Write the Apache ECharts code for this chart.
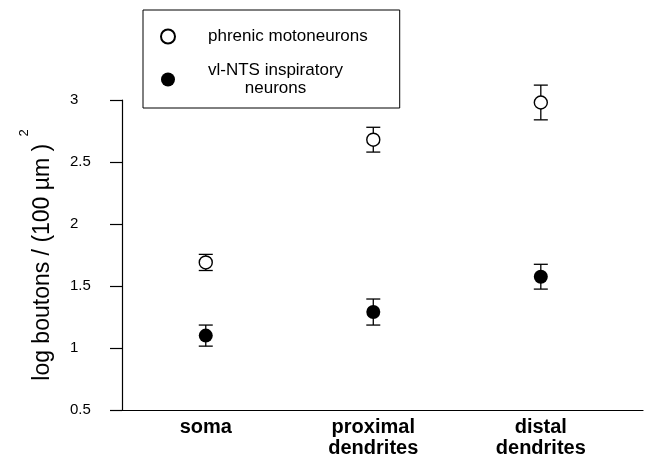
<!DOCTYPE html>
<html><head><meta charset="utf-8">
<script src="https://cdn.jsdelivr.net/npm/echarts@6/dist/echarts.min.js"></script>
<style>html,body{margin:0;padding:0;background:#fff}#c{width:652px;height:466px}</style>
</head><body><div id="c"></div>
<script>
const categories = ['soma', 'proximal\ndendrites', 'distal\ndendrites'];
const phrenicMean = [1.69, 2.68, 2.98];
const phrenicErr = [0.065, 0.10, 0.14];
const ntsMean = [1.10, 1.29, 1.575];
const ntsErr = [0.085, 0.105, 0.10];
const yTicks = [0.5, 1, 1.5, 2, 2.5, 3];
const seriesNames = ['phrenic motoneurons', 'vl-NTS inspiratory\nneurons'];

const FONT = '"Liberation Sans", Arial, Helvetica, sans-serif';
const chart = echarts.init(document.getElementById('c'), null, {renderer: 'canvas'});

function errData(means, errs) {
  return categories.map((c, i) => [i + 1, means[i] - errs[i], means[i] + errs[i]]);
}
function ptData(means) {
  return categories.map((c, i) => [i + 1, means[i]]);
}
function errRender(params, api) {
  const x = api.value(0), lo = api.value(1), hi = api.value(2);
  const pLo = api.coord([x, lo]), pHi = api.coord([x, hi]);
  const w = 7;
  const st = {stroke: '#000', lineWidth: 1.3};
  return {type: 'group', children: [
    {type: 'line', shape: {x1: pLo[0], y1: pLo[1], x2: pHi[0], y2: pHi[1]}, style: st},
    {type: 'line', shape: {x1: pLo[0] - w, y1: pLo[1], x2: pLo[0] + w, y2: pLo[1]}, style: st},
    {type: 'line', shape: {x1: pHi[0] - w, y1: pHi[1], x2: pHi[0] + w, y2: pHi[1]}, style: st}
  ]};
}

const option = {
  animation: false,
  backgroundColor: '#fff',
  textStyle: {fontFamily: FONT, color: '#000'},
  grid: {left: 122, right: 9, top: 100, bottom: 56, containLabel: false},
  legend: {
    data: seriesNames,
    orient: 'vertical',
    left: 143, top: 10,
    itemWidth: 14, itemHeight: 14,
    itemGap: 17,
    padding: [18, 32, 11, 17],
    borderColor: '#000', borderWidth: 1,
    selectedMode: false,
    formatter: name => name.split('\n').map(s => '{c|' + s + '}').join('\n'),
    textStyle: {
      fontFamily: FONT, fontSize: 17, color: '#000',
      padding: [0, 0, 0, 28],
      rich: {c: {fontFamily: FONT, fontSize: 17, lineHeight: 18, color: '#000', align: 'center'}}
    }
  },
  xAxis: {
    type: 'value', min: 0.5, max: 3.61, interval: 0.5,
    splitLine: {show: false},
    axisTick: {show: false},
    axisLine: {lineStyle: {color: '#000', width: 1.2}},
    axisLabel: {
      margin: 7, fontFamily: FONT, fontSize: 20, fontWeight: 'bold', lineHeight: 21, color: '#000',
      showMaxLabel: false,
      formatter: v => (Number.isInteger(v) && v >= 1 && v <= categories.length) ? categories[v - 1] : ''
    }
  },
  yAxis: {
    type: 'value', min: yTicks[0], max: yTicks[yTicks.length - 1], interval: 0.5,
    splitLine: {show: false},
    axisLine: {show: true, lineStyle: {color: '#000', width: 1.2}},
    axisTick: {show: true, length: 12, lineStyle: {color: '#000', width: 1.2}},
    axisLabel: {
      align: 'left', margin: 52, fontFamily: FONT, fontSize: 15, color: '#000',
      formatter: v => String(v)
    },
    name: '{a|log boutons / (100 \u00b5m )}{s|  2}',
    nameLocation: 'middle', nameRotate: 90, nameGap: 68,
    nameTextStyle: {
      fontFamily: FONT, color: '#000',
      rich: {
        a: {fontFamily: FONT, fontSize: 23, lineHeight: 36, verticalAlign: 'bottom', color: '#000'},
        s: {fontFamily: FONT, fontSize: 13, lineHeight: 14, verticalAlign: 'top', color: '#000'}
      }
    }
  },
  series: [
    {type: 'custom', name: 'err1', renderItem: errRender, data: errData(phrenicMean, phrenicErr), z: 1, silent: true},
    {type: 'custom', name: 'err2', renderItem: errRender, data: errData(ntsMean, ntsErr), z: 1, silent: true},
    {
      type: 'scatter', name: seriesNames[0], data: ptData(phrenicMean), symbol: 'circle', symbolSize: 13, z: 3,
      itemStyle: {color: '#fff', borderColor: '#000', borderWidth: 1.4, opacity: 1}
    },
    {
      type: 'scatter', name: seriesNames[1], data: ptData(ntsMean), symbol: 'circle', symbolSize: 14, z: 3,
      itemStyle: {color: '#000', borderColor: '#000', borderWidth: 0, opacity: 1}
    }
  ]
};
chart.setOption(option);
</script>
</body></html>
